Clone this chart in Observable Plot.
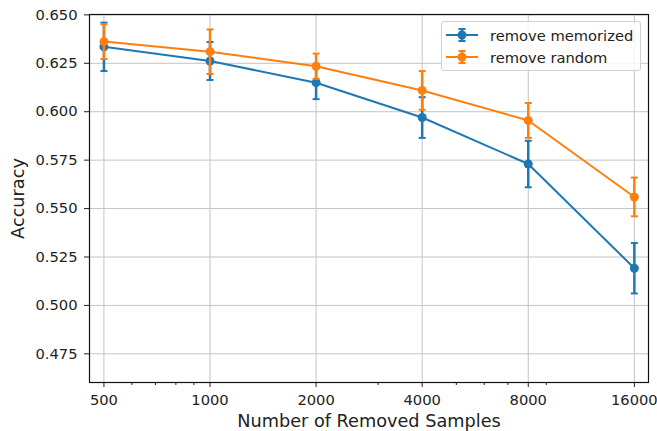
<!DOCTYPE html>
<html>
<head>
<meta charset="utf-8">
<script src="https://cdn.jsdelivr.net/npm/d3@7"></script>
<script src="https://cdn.jsdelivr.net/npm/@observablehq/plot@0.6"></script>
<style>
  html, body { margin: 0; padding: 0; background: #fff; }
  #wrap { position: relative; width: 657px; height: 431px; font-family: "DejaVu Sans", sans-serif; }
  #legend {
    position: absolute; left: 441px; top: 21px; width: 198px; height: 48px;
    border: 1px solid #d0d0d0; border-radius: 3px; background: rgba(255,255,255,0.8);
    font-size: 14.7px; color: #222;
  }
  .row { position: absolute; left: 3px; height: 22px; display: flex; align-items: center; }
  .row svg { margin-right: 11px; }
</style>
</head>
<body>
<div id="wrap"></div>
<script>
// Data
const samples = [500, 1000, 2000, 4000, 8000, 16000];
const memorizedAcc = [0.6335, 0.6262, 0.6150, 0.5970, 0.5730, 0.5192];
const memorizedErr = [0.0125, 0.0098, 0.0085, 0.0105, 0.0120, 0.0130];
const randomAcc = [0.6362, 0.6310, 0.6235, 0.6110, 0.5955, 0.5560];
const randomErr = [0.0090, 0.0115, 0.0065, 0.0100, 0.0090, 0.0100];
const seriesNames = ["remove memorized", "remove random"];
const seriesColors = ["#1f77b4", "#ff7f0e"];
const xTicks = [500, 1000, 2000, 4000, 8000, 16000];
const xMinorTicks = [600, 700, 800, 900, 3000, 5000, 6000, 7000, 9000];
const yTicks = [0.475, 0.500, 0.525, 0.550, 0.575, 0.600, 0.625, 0.650];

const series = [
  samples.map((x, i) => ({x, v: memorizedAcc[i], e: memorizedErr[i]})),
  samples.map((x, i) => ({x, v: randomAcc[i], e: randomErr[i]}))
];

const capSymbol = {
  draw(context, size) {
    const r = Math.sqrt(size / Math.PI);
    context.moveTo(-r, 0);
    context.lineTo(r, 0);
  }
};

const seriesMarks = series.flatMap((data, k) => {
  const c = seriesColors[k];
  return [
    Plot.line(data, {x: "x", y: "v", stroke: c, strokeWidth: 2}),
    Plot.ruleX(data, {x: "x", y1: d => d.v - d.e, y2: d => d.v + d.e, stroke: c, strokeWidth: 2.5}),
    Plot.dot(data, {x: "x", y: d => d.v - d.e, symbol: capSymbol, r: 3.5, stroke: c, strokeWidth: 2, fill: "none"}),
    Plot.dot(data, {x: "x", y: d => d.v + d.e, symbol: capSymbol, r: 3.5, stroke: c, strokeWidth: 2, fill: "none"}),
    Plot.dot(data, {x: "x", y: "v", r: 4.5, fill: c, stroke: "none"})
  ];
});

const chart = Plot.plot({
  width: 657,
  height: 431,
  marginLeft: 89,
  marginRight: 9,
  marginTop: 14,
  marginBottom: 49,
  style: {fontFamily: "DejaVu Sans, sans-serif", fontSize: "14.7px", color: "#222", background: "#fff"},
  x: {type: "log", base: 2, domain: [455, 17550]},
  y: {domain: [0.4602, 0.6502]},
  marks: [
    Plot.gridX(xTicks, {stroke: "#c4c4c4", strokeOpacity: 1, strokeWidth: 1}),
    Plot.gridY(yTicks, {stroke: "#c4c4c4", strokeOpacity: 1, strokeWidth: 1}),
    Plot.axisX(xTicks, {tickSize: 5, tickPadding: 7, tickFormat: d => String(d), label: null, stroke: "#222"}),
    Plot.axisX(xMinorTicks, {tickSize: 3, tickFormat: () => "", label: null, stroke: "#222"}),
    Plot.axisY(yTicks, {tickSize: 5, tickPadding: 7, tickFormat: d3.format(".3f"), label: null, stroke: "#222"}),
    ...seriesMarks,
    Plot.frame({stroke: "#111", strokeWidth: 1.2}),
    Plot.text(["Number of Removed Samples"], {frameAnchor: "bottom", dy: 39, lineAnchor: "middle", fontSize: 17.7, fill: "#222"}),
    Plot.text(["Accuracy"], {frameAnchor: "left", dx: -71, rotate: -90, lineAnchor: "middle", textAnchor: "middle", fontSize: 17.7, fill: "#222"})
  ]
});

const wrap = document.getElementById("wrap");
wrap.appendChild(chart);

// Legend
const legend = document.createElement("div");
legend.id = "legend";
seriesNames.forEach((name, k) => {
  const c = seriesColors[k];
  const row = document.createElement("div");
  row.className = "row";
  row.style.top = (2 + k * 22) + "px";
  row.innerHTML =
    `<svg width="34" height="22" viewBox="0 0 34 22">
       <line x1="1" y1="11" x2="33" y2="11" stroke="${c}" stroke-width="2"/>
       <line x1="17" y1="5" x2="17" y2="17" stroke="${c}" stroke-width="2.5"/>
       <line x1="13.5" y1="5" x2="20.5" y2="5" stroke="${c}" stroke-width="2"/>
       <line x1="13.5" y1="17" x2="20.5" y2="17" stroke="${c}" stroke-width="2"/>
       <circle cx="17" cy="11" r="4.5" fill="${c}"/>
     </svg><span>${name}</span>`;
  legend.appendChild(row);
});
wrap.appendChild(legend);
</script>
</body>
</html>
